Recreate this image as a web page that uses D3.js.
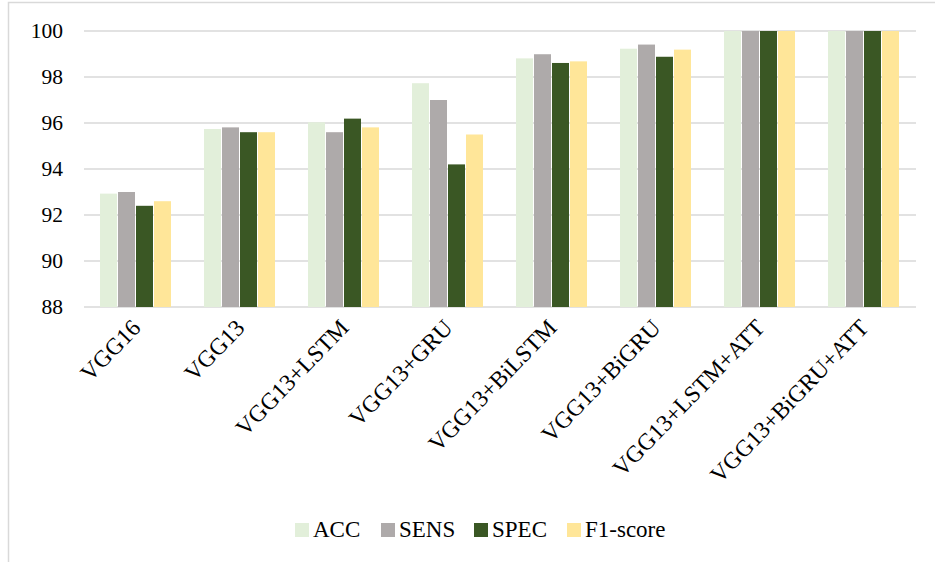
<!DOCTYPE html>
<html>
<head>
<meta charset="utf-8">
<script src="https://cdn.jsdelivr.net/npm/d3@7"></script>
<style>
  body { margin: 0; background: #fff; }
  svg { display: block; font-family: "Liberation Serif", "Times New Roman", serif; }
</style>
</head>
<body>
<div class="chart"></div>
<script>
// chart values
const categories = ["VGG16", "VGG13", "VGG13+LSTM", "VGG13+GRU", "VGG13+BiLSTM", "VGG13+BiGRU", "VGG13+LSTM+ATT", "VGG13+BiGRU+ATT"];
const seriesNames = ["ACC", "SENS", "SPEC", "F1-score"];
const accValues = [92.93, 95.74, 96.03, 97.73, 98.81, 99.23, 100, 100];
const sensValues = [93.0, 95.81, 95.6, 97.0, 98.99, 99.41, 100, 100];
const specValues = [92.4, 95.6, 96.19, 94.2, 98.61, 98.88, 100, 100];
const f1Values = [92.6, 95.6, 95.81, 95.5, 98.68, 99.19, 100, 100];
const yTicks = [88, 90, 92, 94, 96, 98, 100];
const colors = ["#E2EFDA", "#AEAAAA", "#3A5724", "#FFE699"];

const width = 935, height = 562;
const margin = { left: 84, right: 19, top: 31, bottom: 255 };
const serif = "'Liberation Serif', 'Times New Roman', serif";

const svg = d3.select(".chart").append("svg")
    .attr("width", width)
    .attr("height", height);

// outer frame (only top and left edges are visible in the crop)
svg.append("rect")
    .attr("x", 8.5).attr("y", 2.5)
    .attr("width", 1000).attr("height", 1000)
    .attr("fill", "none")
    .attr("stroke", "#D9D9D9")
    .attr("stroke-width", 1.5);

const x = d3.scaleBand()
    .domain(categories)
    .range([margin.left, width - margin.right]);

const x1 = d3.scaleBand()
    .domain(seriesNames)
    .range([0, 72]);

const y = d3.scaleLinear()
    .domain([88, 100])
    .range([height - margin.bottom, margin.top]);

// gridlines
svg.append("g")
    .selectAll("line")
    .data(yTicks)
    .join("line")
    .attr("x1", margin.left)
    .attr("x2", width - margin.right)
    .attr("y1", d => y(d))
    .attr("y2", d => y(d))
    .attr("stroke", "#D9D9D9")
    .attr("stroke-width", 1.5);

// y axis labels
const yAxis = d3.axisLeft(y).tickValues(yTicks).tickSize(0).tickPadding(21);
svg.append("g")
    .attr("transform", `translate(${margin.left},0)`)
    .call(yAxis)
    .attr("font-family", serif)
    .attr("font-size", 21.5)
    .call(g => g.select(".domain").remove())
    .selectAll("text")
    .attr("fill", "#000");

// bars
const series = [accValues, sensValues, specValues, f1Values];
const rows = categories.map((c, i) => ({
    cat: c,
    vals: seriesNames.map((s, j) => ({ name: s, idx: j, value: series[j][i] }))
}));

svg.append("g")
    .selectAll("g")
    .data(rows)
    .join("g")
    .attr("transform", d => `translate(${x(d.cat) + (x.bandwidth() - 72) / 2},0)`)
    .selectAll("rect")
    .data(d => d.vals)
    .join("rect")
    .attr("x", d => x1(d.name))
    .attr("width", x1.bandwidth() - 1)
    .attr("y", d => y(d.value))
    .attr("height", d => y(88) - y(d.value))
    .attr("fill", d => colors[d.idx]);

// x labels, rotated
svg.append("g")
    .attr("font-family", serif)
    .attr("font-size", 23.5)
    .selectAll("text")
    .data(categories)
    .join("text")
    .attr("transform", d => `translate(${x(d) + x.bandwidth() / 2 + 6},${y(88) + 22}) rotate(-46)`)
    .attr("text-anchor", "end")
    .attr("fill", "#000")
    .text(d => d);

// legend
const legendX = [295, 381, 474, 567];
const legend = svg.append("g")
    .attr("font-family", serif)
    .attr("font-size", 23)
    .selectAll("g")
    .data(seriesNames)
    .join("g")
    .attr("transform", (d, i) => `translate(${legendX[i]},523)`);

legend.append("rect")
    .attr("width", 14)
    .attr("height", 14)
    .attr("fill", (d, i) => colors[i]);

legend.append("text")
    .attr("x", 18)
    .attr("y", 14)
    .attr("fill", "#000")
    .text(d => d);
</script>
</body>
</html>
